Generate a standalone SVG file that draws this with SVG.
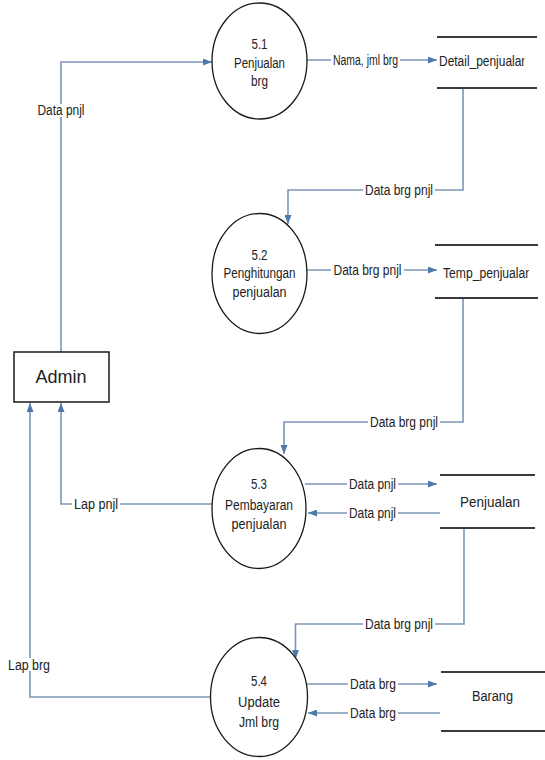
<svg xmlns="http://www.w3.org/2000/svg" width="545" height="760" viewBox="0 0 545 760">
  <style>
    .proc { fill: #ffffff; stroke: #1a1a1a; stroke-width: 1.3; }
    .ent { fill: #ffffff; stroke: #1a1a1a; stroke-width: 1.5; }
    .store { stroke: #3a3a3a; stroke-width: 2; fill: none; }
    .flow { fill: none; stroke: #7d96b8; stroke-width: 1.6; marker-end: url(#arrow); }
    .bg { fill: #ffffff; }
    text { font-family: "Liberation Sans", Arial, sans-serif; fill: #222222; dominant-baseline: central; }
    .t { font-size: 14px; text-anchor: middle; }
    .lbl { font-size: 14px; text-anchor: middle; }
    .st { font-size: 14px; }
    .big { font-size: 18px; text-anchor: middle; }
  </style>
  <defs>
    <marker id="arrow" markerUnits="userSpaceOnUse" markerWidth="9" markerHeight="7" refX="9" refY="3.5" orient="auto">
      <path d="M0,0 L9,3.5 L0,7 z" fill="#4f78aa"/>
    </marker>
    <clipPath id="clipDetail"><rect x="430" y="40" width="94.5" height="45"/></clipPath>
    <clipPath id="clipTemp"><rect x="430" y="250" width="99" height="45"/></clipPath>
  </defs>

  <!-- data flows -->
  <g id="connectors">
    <path class="flow" d="M61 352 V62 H212"/>
    <path class="flow" d="M307 60 H437"/>
    <path class="flow" d="M463 88 V190 H288 V224"/>
    <path class="flow" d="M307 270 H437"/>
    <path class="flow" d="M463 298 V422 H284 V454"/>
    <path class="flow" d="M212 504 H61 V403"/>
    <path class="flow" d="M305 484 H437"/>
    <path class="flow" d="M440 513 H308"/>
    <path class="flow" d="M464 528 V624 H295.5 V659"/>
    <path class="flow" d="M210 697 H30 V403"/>
    <path class="flow" d="M307 684 H437"/>
    <path class="flow" d="M440 713 H308"/>

    <!-- flow labels -->
    <rect class="bg" x="35" y="104" width="52" height="13"/>
    <text class="lbl" x="61" y="110" textLength="47" lengthAdjust="spacingAndGlyphs">Data pnjl</text>

    <rect class="bg" x="331" y="53" width="69" height="13"/>
    <text class="lbl" x="365.5" y="60" textLength="65" lengthAdjust="spacingAndGlyphs">Nama, jml brg</text>

    <rect class="bg" x="363" y="183" width="72" height="13"/>
    <text class="lbl" x="399" y="190" textLength="68" lengthAdjust="spacingAndGlyphs">Data brg pnjl</text>

    <rect class="bg" x="331" y="263" width="73" height="13"/>
    <text class="lbl" x="367.5" y="270" textLength="68" lengthAdjust="spacingAndGlyphs">Data brg pnjl</text>

    <rect class="bg" x="368" y="415" width="72" height="13"/>
    <text class="lbl" x="404" y="422" textLength="68" lengthAdjust="spacingAndGlyphs">Data brg pnjl</text>

    <rect class="bg" x="72" y="497" width="48" height="13"/>
    <text class="lbl" x="96" y="504" textLength="44" lengthAdjust="spacingAndGlyphs">Lap pnjl</text>

    <rect class="bg" x="347" y="477" width="51" height="13"/>
    <text class="lbl" x="372.5" y="484" textLength="47" lengthAdjust="spacingAndGlyphs">Data pnjl</text>

    <rect class="bg" x="347" y="506" width="51" height="13"/>
    <text class="lbl" x="372.5" y="513" textLength="47" lengthAdjust="spacingAndGlyphs">Data pnjl</text>

    <rect class="bg" x="363" y="617" width="72" height="13"/>
    <text class="lbl" x="399" y="624" textLength="68" lengthAdjust="spacingAndGlyphs">Data brg pnjl</text>

    <rect class="bg" x="7" y="658" width="46" height="13"/>
    <text class="lbl" x="29" y="665" textLength="42" lengthAdjust="spacingAndGlyphs">Lap brg</text>

    <rect class="bg" x="348" y="677" width="50" height="13"/>
    <text class="lbl" x="373" y="684" textLength="46" lengthAdjust="spacingAndGlyphs">Data brg</text>

    <rect class="bg" x="348" y="706" width="50" height="13"/>
    <text class="lbl" x="373" y="713" textLength="46" lengthAdjust="spacingAndGlyphs">Data brg</text>
  </g>

  <!-- external entity -->
  <g id="admin">
    <rect class="ent" x="14" y="352" width="95" height="50"/>
    <text class="big" x="61" y="377">Admin</text>
  </g>

  <!-- processes -->
  <g id="p51">
    <ellipse class="proc" cx="259.5" cy="61" rx="47.5" ry="58"/>
    <text class="t" x="259.5" y="44" textLength="16" lengthAdjust="spacingAndGlyphs">5.1</text>
    <text class="t" x="259.5" y="63" textLength="51" lengthAdjust="spacingAndGlyphs">Penjualan</text>
    <text class="t" x="259.5" y="81" textLength="17" lengthAdjust="spacingAndGlyphs">brg</text>
  </g>
  <g id="p52">
    <ellipse class="proc" cx="259.5" cy="273.5" rx="47.5" ry="60"/>
    <text class="t" x="259.5" y="255" textLength="16" lengthAdjust="spacingAndGlyphs">5.2</text>
    <text class="t" x="259.5" y="273" textLength="72" lengthAdjust="spacingAndGlyphs">Penghitungan</text>
    <text class="t" x="259.5" y="292" textLength="54" lengthAdjust="spacingAndGlyphs">penjualan</text>
  </g>
  <g id="p53">
    <ellipse class="proc" cx="259" cy="508.5" rx="47" ry="60"/>
    <text class="t" x="259" y="484" textLength="16" lengthAdjust="spacingAndGlyphs">5.3</text>
    <text class="t" x="259" y="505" textLength="68" lengthAdjust="spacingAndGlyphs">Pembayaran</text>
    <text class="t" x="259" y="524" textLength="55" lengthAdjust="spacingAndGlyphs">penjualan</text>
  </g>
  <g id="p54">
    <ellipse class="proc" cx="259" cy="697" rx="48.5" ry="59.5"/>
    <text class="t" x="259" y="681" textLength="16" lengthAdjust="spacingAndGlyphs">5.4</text>
    <text class="t" x="259" y="702" textLength="42" lengthAdjust="spacingAndGlyphs">Update</text>
    <text class="t" x="259" y="722" textLength="40" lengthAdjust="spacingAndGlyphs">Jml brg</text>
  </g>

  <!-- data stores -->
  <g id="detail_penjualan">
    <path class="store" d="M437 37 H537 M437 88 H537"/>
    <text class="st" x="439" y="61" textLength="89" lengthAdjust="spacingAndGlyphs" clip-path="url(#clipDetail)">Detail_penjualan</text>
  </g>
  <g id="temp_penjualan">
    <path class="store" d="M435 245 H538 M435 298 H538"/>
    <text class="st" x="443" y="273" textLength="89" lengthAdjust="spacingAndGlyphs" clip-path="url(#clipTemp)">Temp_penjualan</text>
  </g>
  <g id="penjualan">
    <path class="store" d="M440 475 H535 M440 528 H535"/>
    <text class="st" x="490" y="502" text-anchor="middle" textLength="60" lengthAdjust="spacingAndGlyphs">Penjualan</text>
  </g>
  <g id="barang">
    <path class="store" d="M441 672 H545 M441 731 H545"/>
    <text class="st" x="492.5" y="696" text-anchor="middle" textLength="41" lengthAdjust="spacingAndGlyphs">Barang</text>
  </g>
</svg>
